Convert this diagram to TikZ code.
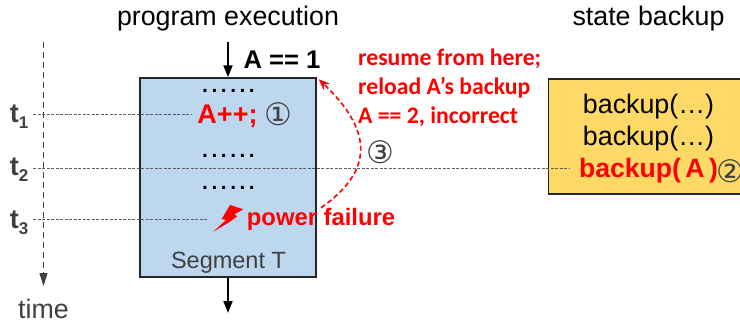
\documentclass[tikz,border=0pt]{standalone}
\usepackage{fontspec}
\setmainfont{Liberation Sans}
\newfontfamily\carlitofont{Carlito}
\newfontfamily\dejavufont{DejaVu Sans}
\usepackage{xcolor}
\usetikzlibrary{arrows.meta,positioning}
\definecolor{segblue}{HTML}{BDD7EE}
\definecolor{backupyellow}{HTML}{FFD966}
\definecolor{darkgray}{HTML}{404040}
\newcommand{\segdots}{.\,.\,.\,.\,.\,.}
\newcommand{\tsub}[1]{t{\fontsize{17}{17}\selectfont\raisebox{-6pt}{#1}}}
\begin{document}
\begin{tikzpicture}[x=1pt,y=-1pt,
  txt/.style={inner sep=0pt, font=\fontsize{#1}{#1}\selectfont},
  txt/.default=26.8,
  redtxt/.style={inner sep=0pt, text=red, font=\fontsize{#1}{#1}\selectfont\bfseries},
  tlabel/.style={inner sep=0pt, text=darkgray, font=\fontsize{27}{27}\selectfont\bfseries},
  num/.style={inner sep=0pt, text=darkgray, font=\fontsize{31}{31}\selectfont\dejavufont},
  dots/.style={inner sep=0pt, font=\fontsize{21}{21}\selectfont\bfseries},
  blockbox/.style={draw=black!85, line width=1.5pt, inner sep=0pt, fill=#1},
  flow/.style={-{Triangle[length=12pt,width=9pt]}, line width=1.8pt},
  tick/.style={dash pattern=on 3pt off 1.5pt, line width=0.7pt, draw=darkgray!85},
  axis/.style={dash pattern=on 6pt off 4pt, line width=1pt, draw=darkgray, -{Triangle[length=13pt,width=8pt]}},
  resume/.style={dash pattern=on 5pt off 3pt, line width=1.6pt, draw=red, -{Stealth[length=11pt,width=9pt]}}]
\clip (0,0) rectangle (740,327);
% blocks
\node[blockbox=segblue, minimum width=176pt, minimum height=199pt] (seg) at (228,177.5) {};
\node[blockbox=backupyellow, minimum width=240pt, minimum height=115pt, anchor=north west] (store) at (547.5,78) {};
% titles
\node[txt] (progtitle) at (228,19) {program execution};
\node[txt] (backtitle) at (648.5,19) {state backup};
% segment contents
\node[inner sep=0pt, font=\fontsize{25.6}{25.6}\selectfont\bfseries] (avalue) at (282,60) {A == 1};
\node[dots] (dotsa) at (228.5,91) {\segdots};
\node[redtxt=27] (aplus) at (227.5,116) {A++;};
\node[num] (numa) at (278,114) {①};
\node[dots] (dotsb) at (228.5,156) {\segdots};
\node[dots] (dotsc) at (228.5,188) {\segdots};
\node[redtxt=23.8] (pf) at (321,219) {power failure};
\node[txt=23.5, text=darkgray] (segname) at (228.5,263) {Segment T};
\node[inner sep=0pt, text=red, align=left, anchor=west, font=\fontsize{23.7}{29}\selectfont\carlitofont\bfseries] (note) at (358,88) {resume from here;\\reload A’s backup\\A == 2, incorrect};
\node[num] (numc) at (380,152) {③};
% backup contents
\node[txt] (backa) at (648.5,107) {backup(…)};
\node[txt] (backb) at (648.5,139) {backup(…)};
\node[redtxt=26.6] (backc) at (648.5,171) {backup(\,A\,)};
\node[num] (numb) at (730,171) {②};
% time axis
\node[tlabel] (tone) at (19,117) {\tsub{1}};
\node[tlabel] (ttwo) at (19,170) {\tsub{2}};
\node[tlabel] (tthree) at (19,223) {\tsub{3}};
\node[txt, text=darkgray] (time) at (43.5,309) {time};
\coordinate (axistop) at (43.5,42);
\coordinate (axisend) at (43.5,286);
\coordinate (segin) at (228,42);
\coordinate (segout) at (228,313);
\coordinate (bolt) at (207,219);
\coordinate (tonestart) at (33,114);
\coordinate (ttwostart) at (33,168);
\coordinate (tthreestart) at (33,219);
\coordinate (ttwoend) at (570,168);
\coordinate (toneend) at (192,114);
% connectors
\draw[axis] (axistop) -- (axisend);
\draw[tick] (tonestart) -- (toneend);
\draw[tick] (ttwostart) -- (ttwoend);
\draw[tick] (tthreestart) -- (bolt);
\draw[flow] (segin) -- (seg.north);
\draw[flow] (seg.south) -- (segout);
\draw[resume] (pf.north) .. controls (375,170) and (372,130) .. ([xshift=2pt,yshift=-2pt]seg.north east);
% lightning
\fill[red] (213.3,231.7) -- (226,220) -- (221.7,219) -- (230,205) -- (243.3,209.3) -- (234.3,214.3) -- (237.3,216.3) -- (230,221.7) -- cycle;
\end{tikzpicture}
\end{document}
